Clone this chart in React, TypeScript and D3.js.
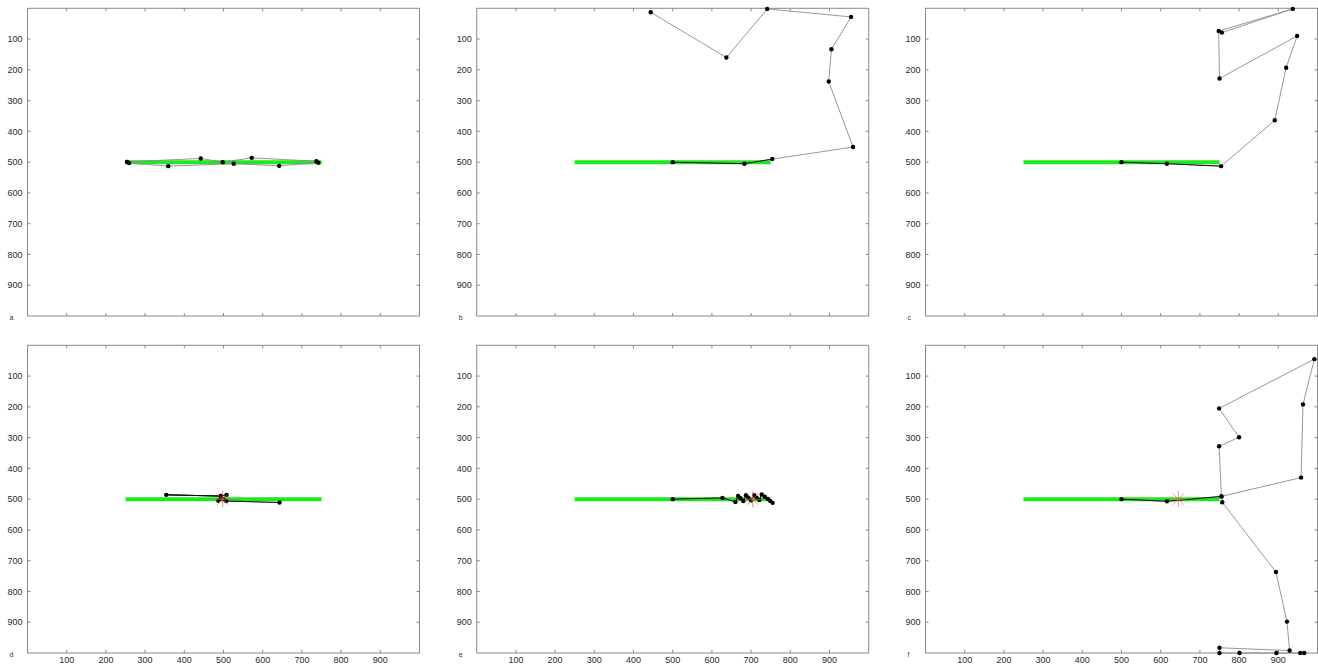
import React from "react";
import * as d3 from "d3";

type P = [number, number];

const ticks = [100, 200, 300, 400, 500, 600, 700, 800, 900];
const needle: P[] = [[250, 500], [750, 500]];

const pathA: P[] = [[254, 499], [442, 488], [498, 500], [572, 486], [737, 497], [742, 502], [642, 512], [526, 505], [359, 513], [259, 503], [254, 499]];
const pathB: P[] = [[500, 500], [683, 505], [754, 490], [960, 451], [898, 238], [905, 133], [955, 28], [741, 2], [637, 160], [444, 13]];
const pathC: P[] = [[500, 500], [616, 505], [754, 513], [891, 364], [920, 193], [948, 90], [750, 228], [748, 74], [937, 2], [756, 79]];
const pathD: P[] = [[500, 500], [487, 505], [493, 490], [354, 486], [493, 490], [508, 486], [498, 500], [507, 506], [643, 511]];
const pathE: P[] = [[500, 500], [627, 496], [660, 509], [667, 490], [673, 497], [680, 506], [687, 487], [693, 495], [700, 504], [708, 487], [714, 495], [721, 503], [727, 485], [735, 492], [742, 499], [749, 506], [755, 512]];
const pathF: P[] = [[500, 500], [616, 507], [755, 491], [958, 430], [963, 192], [992, 45], [749, 205], [800, 299], [749, 328], [755, 491], [757, 510], [894, 737], [922, 898], [929, 992], [750, 983], [750, 1000], [801, 1000], [895, 1000], [956, 1000], [966, 1000]];

const stars: (P | null)[] = [null, null, null, [498, 500], [704, 500], [645, 500]];
const paths: P[][] = [pathA, pathB, pathC, pathD, pathE, pathF];
const darkSegs = [0, 2, 2, 99, 99, 2];
const labels = ["a", "b", "c", "d", "e", "f"];
const showX = [false, false, false, true, true, true];

const lefts = [27.5, 476.7, 925.5];
const tops = [8.3, 345.3];
const W = 392;
const H = 307.7;

function Panel({ i }: { i: number }) {
  const x0 = lefts[i % 3];
  const y0 = tops[Math.floor(i / 3)];
  const x = d3.scaleLinear().domain([0, 1000]).range([x0, x0 + W]);
  const y = d3.scaleLinear().domain([0, 1000]).range([y0, y0 + H]);
  const line = d3.line<P>().x((d) => x(d[0])).y((d) => y(d[1]));
  const pts = paths[i];
  const nd = Math.min(darkSegs[i], pts.length - 1);
  const dark = pts.slice(0, nd + 1);
  const star = stars[i];
  const tc = "#8a8a8a";
  const font = "Liberation Sans, Arial, sans-serif";
  return (
    <g>
      <rect x={x0} y={y0} width={W} height={H} fill="#fff" stroke={tc} strokeWidth={1} />
      {ticks.map((t) => (
        <g key={"t" + t}>
          <line x1={x(t)} x2={x(t)} y1={y0} y2={y0 + 3} stroke={tc} />
          <line x1={x(t)} x2={x(t)} y1={y0 + H} y2={y0 + H - 3} stroke={tc} />
          <line x1={x0} x2={x0 + 3} y1={y(t)} y2={y(t)} stroke={tc} />
          <line x1={x0 + W} x2={x0 + W - 3} y1={y(t)} y2={y(t)} stroke={tc} />
          <text x={x0 - 5} y={y(t)} dy="0.35em" textAnchor="end" fontSize={9} fill="#2a2a2a" fontFamily={font}>{t}</text>
          {showX[i] && (
            <text x={x(t)} y={y0 + H + 10} textAnchor="middle" fontSize={9} fill="#2a2a2a" fontFamily={font}>{t}</text>
          )}
        </g>
      ))}
      <path d={line(needle) || ""} stroke="#1ee81e" strokeWidth={4} fill="none" />
      <path d={line(pts) || ""} stroke="#8c8c8c" strokeWidth={0.9} fill="none" />
      {nd > 0 && <path d={line(dark) || ""} stroke="#111" strokeWidth={1} fill="none" />}
      {pts.map((p, k) => (
        <circle key={k} cx={x(p[0])} cy={y(p[1])} r={2.2} fill="#000" />
      ))}
      {star && (
        <g stroke="#f06a50" strokeWidth={0.8} opacity={0.9}>
          {[0, 45, 90, 135].map((a) => {
            const r = 8;
            const dx = r * Math.cos((a * Math.PI) / 180);
            const dy = r * Math.sin((a * Math.PI) / 180);
            return <line key={a} x1={x(star[0]) - dx} x2={x(star[0]) + dx} y1={y(star[1]) - dy} y2={y(star[1]) + dy} />;
          })}
        </g>
      )}
      <text x={x0 - 18} y={y0 + H + 4} fontSize={7} fill="#333" fontFamily={font}>{labels[i]}</text>
    </g>
  );
}

export default function App() {
  return (
    <svg width={1318} height={668} style={{ position: "absolute", left: 0, top: 0, background: "#fff" }}>
      {[0, 1, 2, 3, 4, 5].map((i) => (
        <Panel key={i} i={i} />
      ))}
    </svg>
  );
}
